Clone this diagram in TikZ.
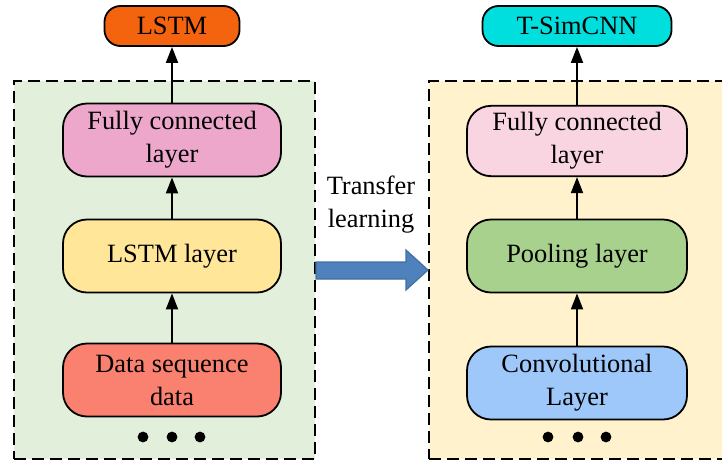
\documentclass[tikz,border=0pt]{standalone}
\usepackage{fontspec}
\setmainfont{Liberation Serif}
\usetikzlibrary{arrows.meta}

\definecolor{panelgreen}{HTML}{E2EFDA}
\definecolor{panelyellow}{HTML}{FFF2CC}
\definecolor{lstmorange}{HTML}{F4640E}
\definecolor{simcyan}{HTML}{00DEDE}
\definecolor{fcpink}{HTML}{ECA7CB}
\definecolor{fclight}{HTML}{F8D5E1}
\definecolor{lstmyellow}{HTML}{FFE699}
\definecolor{datasalmon}{HTML}{FA8170}
\definecolor{poolgreen}{HTML}{A9D18E}
\definecolor{convblue}{HTML}{9DC8F9}
\definecolor{transblue}{HTML}{4F81BD}
\definecolor{transedge}{HTML}{41719C}

\begin{document}
\begin{tikzpicture}[x=0.5pt,y=-0.5pt,->,>={Triangle[length=8pt,width=6pt]},line width=0.9pt,
                    font=\fontsize{13.2}{16.5}\selectfont,
                    layer node/.style={draw,rounded corners=12pt,minimum width=109pt,minimum height=36.5pt,align=center},
                    head node/.style={draw,rounded corners=8pt,minimum width=67.5pt,minimum height=20pt},
                    panel/.style={draw,dash pattern=on 6pt off 3pt,line width=1pt,inner sep=0pt}]

  \clip (0,0) rectangle (722,461);

  % the two dashed panels
  \node[panel,fill=panelgreen,minimum width=150.5pt,minimum height=189pt] (lstmpanel) at (164.5,270) {};
  \node[panel,fill=panelyellow,minimum width=160pt,minimum height=189pt] (cnnpanel) at (589,270) {};

  % LSTM side
  \node[head node,fill=lstmorange] (lstm) at (172,26) {LSTM};
  \node[layer node,fill=fcpink] (fc1) at (172,140) {Fully connected\\layer};
  \node[layer node,fill=lstmyellow] (lstmlayer) at (172,256) {LSTM layer};
  \node[layer node,fill=datasalmon] (data) at (172,380) {Data sequence\\data};

  % T-SimCNN side
  \node[head node,fill=simcyan,minimum width=94.5pt] (simcnn) at (577,26) {T-SimCNN};
  \node[layer node,fill=fclight,minimum width=110pt,minimum height=33pt] (fc2) at (577,141) {Fully connected\\layer};
  \node[layer node,fill=poolgreen,minimum width=110pt] (pool) at (577,256) {Pooling layer};
  \node[layer node,fill=convblue,minimum width=110pt] (conv) at (577,383) {Convolutional\\Layer};

  \draw (fc1) -- (lstm);
  \draw (lstmlayer) -- (fc1);
  \draw (data) -- (lstmlayer);
  \draw (fc2) -- (simcnn);
  \draw (pool) -- (fc2);
  \draw (conv) -- (pool);

  % dots below the input layers
  \foreach \x in {143,172,200,548,578,606}
    \fill (\x,437) circle (2.7pt);

  % transfer arrow between the panels
  \node[align=center] (transfer) at (371,205) {Transfer\\learning};
  \path[-,draw=transedge,fill=transblue,line width=0.6pt]
    (lstmpanel.east |- 0,262) -- (406,262) -- (406,250) -- (cnnpanel.west |- 0,270)
    -- (406,290) -- (406,279) -- (lstmpanel.east |- 0,279) -- cycle;
\end{tikzpicture}
\end{document}
